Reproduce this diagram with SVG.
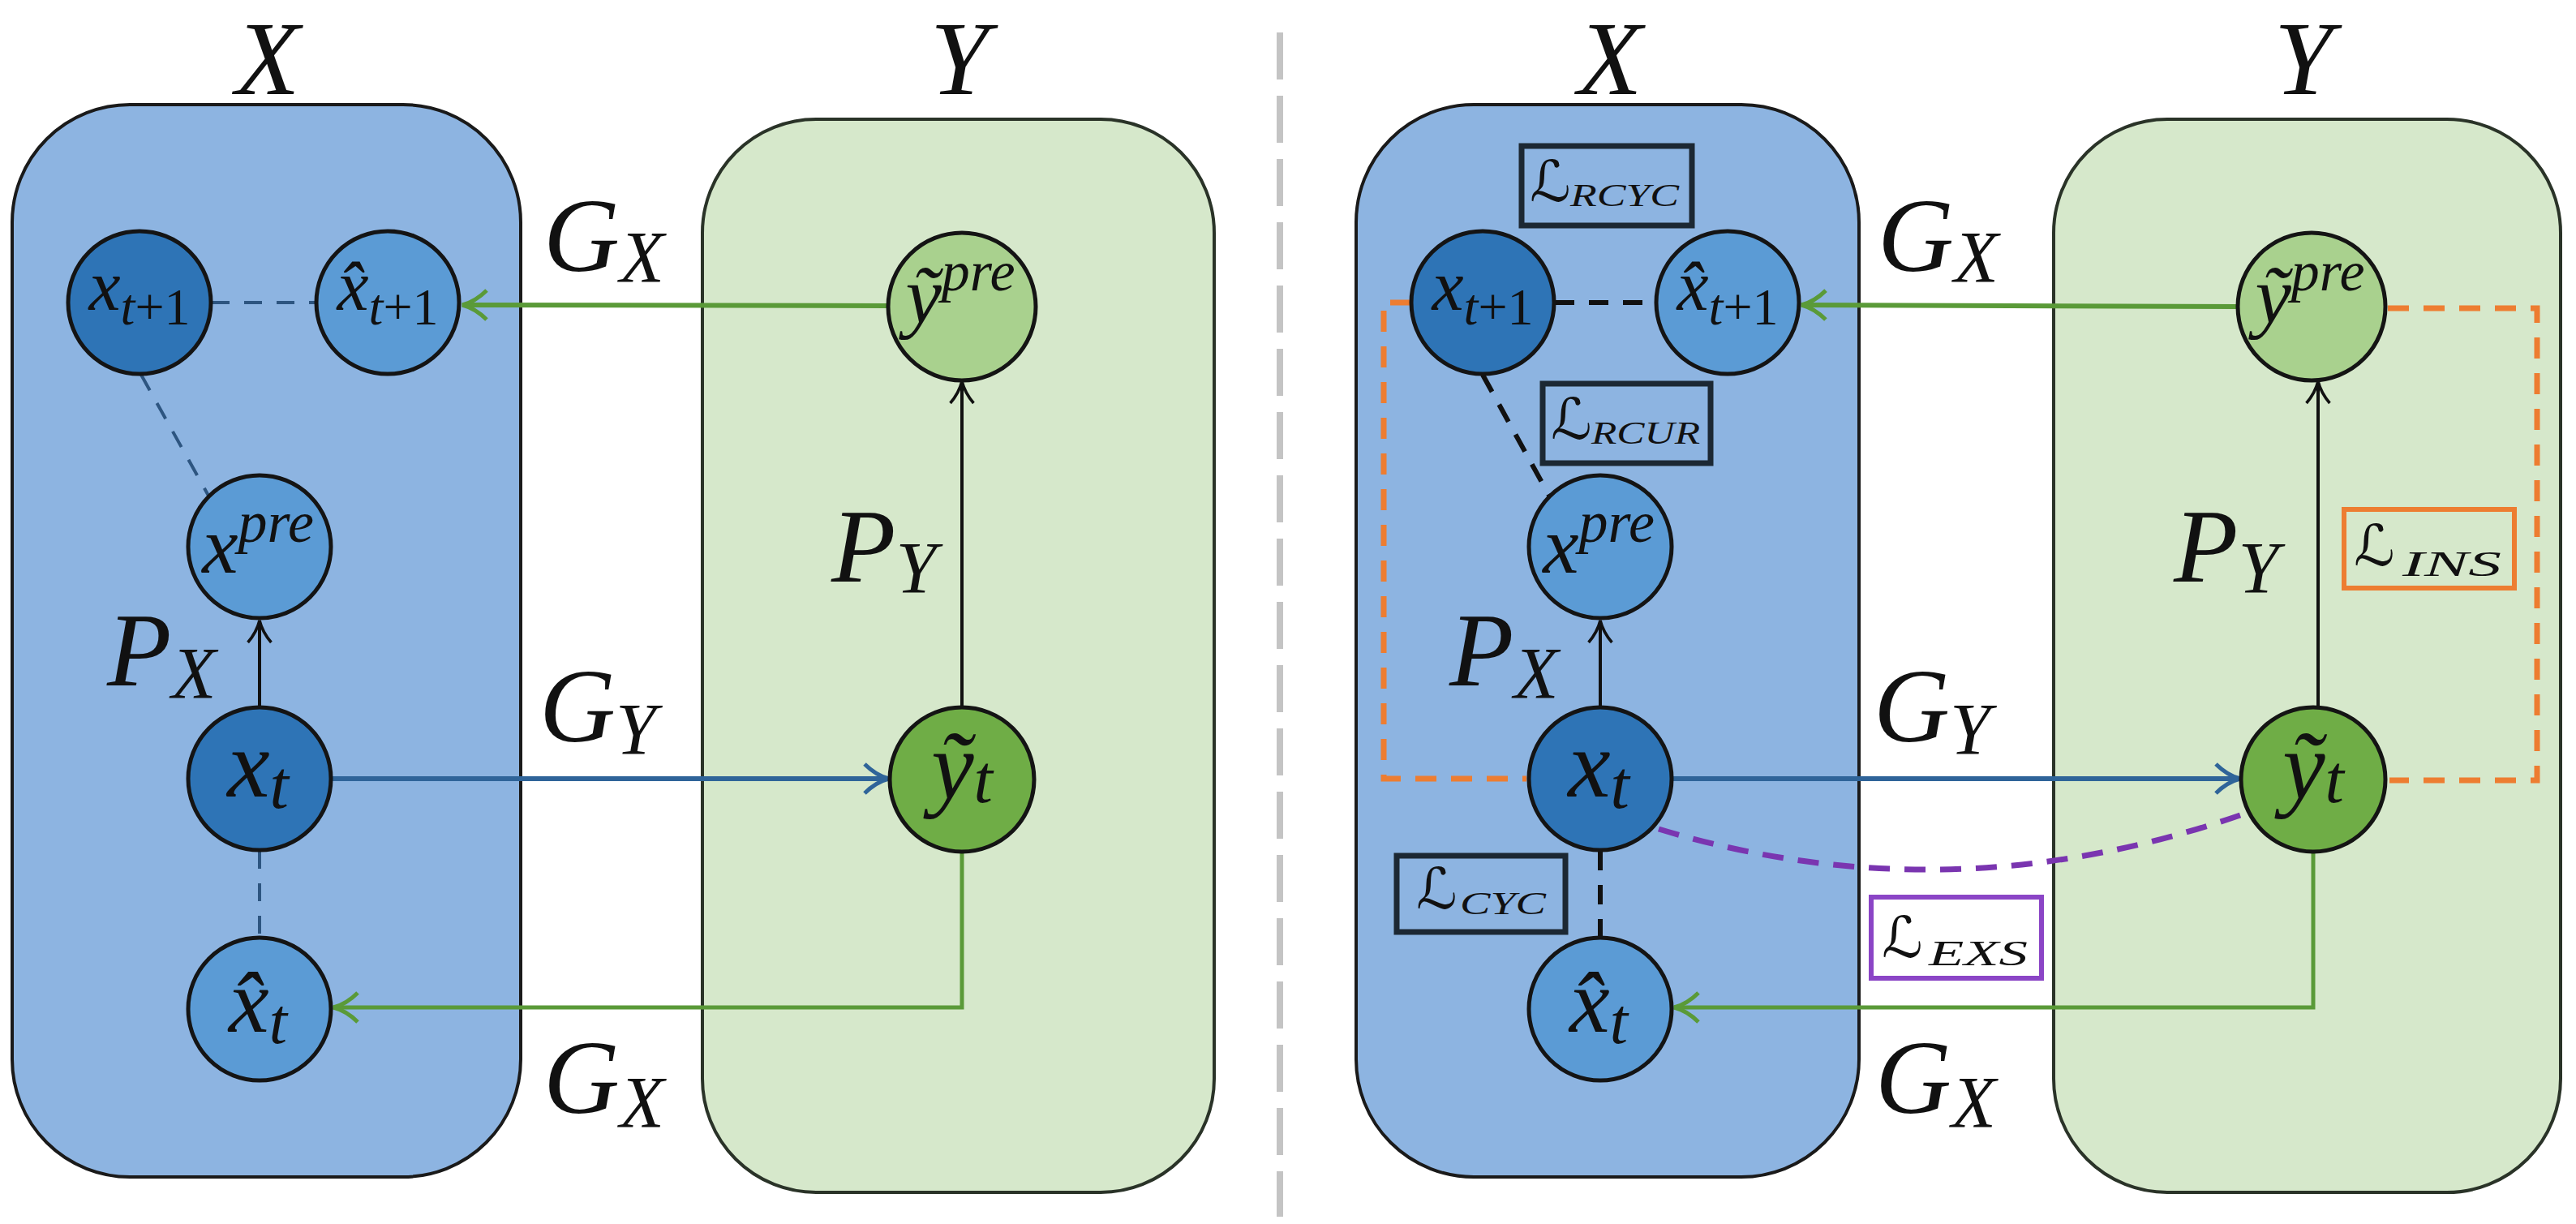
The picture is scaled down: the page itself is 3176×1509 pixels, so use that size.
<svg xmlns="http://www.w3.org/2000/svg" width="3176" height="1509" viewBox="0 0 3176 1509">
<style>
.bg{fill:#ffffff}
.bbox{fill:#8db4e1;stroke:#1a1a1a;stroke-width:4}
.gbox{fill:#d6e8cb;stroke:#2a3328;stroke-width:4}
.n{stroke:#141414;stroke-width:5}
.dk{fill:#2e74b6}
.md{fill:#5b9bd5}
.lg{fill:#a9d18e}
.gr{fill:#6fad46}
.m{font-family:"Liberation Serif","DejaVu Serif",serif;font-style:italic;fill:#111}
.L{font-family:"DejaVu Serif","DejaVu Sans",serif;font-style:italic;fill:#111}
.ga{stroke:#5a9a38;stroke-width:6;fill:none}
.ba{stroke:#2f6499;stroke-width:6;fill:none}
.ka{stroke:#111;stroke-width:4;fill:none}
.dbl{stroke:#2d5580;stroke-width:4;fill:none;stroke-dasharray:22 18}
.dk2{stroke:#111;stroke-width:6;fill:none;stroke-dasharray:24 18}
.or{stroke:#ed7d31;stroke-width:7;fill:none;stroke-dasharray:26 18}
.pu{stroke:#7a35b0;stroke-width:7;fill:none;stroke-dasharray:26 18}
.lb{fill:none;stroke:#1c2833;stroke-width:7}
</style>
<defs>
<marker id="ag" viewBox="0 0 40 40" refX="36" refY="20" markerWidth="40" markerHeight="40" markerUnits="userSpaceOnUse" orient="auto"><path d="M6,2 Q20,16 36,20 Q20,24 6,38" fill="none" stroke="#5a9a38" stroke-width="5"/></marker>
<marker id="ab" viewBox="0 0 40 40" refX="36" refY="20" markerWidth="40" markerHeight="40" markerUnits="userSpaceOnUse" orient="auto"><path d="M6,2 Q20,16 36,20 Q20,24 6,38" fill="none" stroke="#2f6499" stroke-width="5"/></marker>
<marker id="ak" viewBox="0 0 40 40" refX="36" refY="20" markerWidth="36" markerHeight="36" markerUnits="userSpaceOnUse" orient="auto"><path d="M6,4 Q20,16 36,20 Q20,24 6,36" fill="none" stroke="#111" stroke-width="4"/></marker>
</defs>
<rect class="bg" x="0" y="0" width="3176" height="1509"/>

<!-- separator -->
<line x1="1578" y1="40" x2="1578" y2="1500" stroke="#c4c4c4" stroke-width="8" stroke-dasharray="58 20"/>

<!-- ============ LEFT PANEL ============ -->
<g id="left-domain-X">
<rect class="bbox" x="15" y="129" width="627" height="1322" rx="145" ry="145"/>
<text class="m" x="330" y="116" font-size="130" text-anchor="middle">X</text>
</g>
<g id="left-domain-Y">
<rect class="gbox" x="866" y="147" width="631" height="1323" rx="140" ry="140"/>
<text class="m" x="1183" y="116" font-size="130" text-anchor="middle">Y</text>
</g>

<g id="left-connectors">
<line class="ga" x1="1094" y1="377" x2="570" y2="376" marker-end="url(#ag)"/>
<line class="ka" x1="1186" y1="872" x2="1186" y2="470" marker-end="url(#ak)"/>
<line class="ka" x1="320" y1="871" x2="320" y2="765" marker-end="url(#ak)"/>
<line class="ba" x1="409" y1="960" x2="1096" y2="960" marker-end="url(#ab)"/>
<polyline class="ga" points="1186,1050 1186,1242 411,1242" marker-end="url(#ag)" style="stroke-width:5"/>
<line class="dbl" x1="261" y1="373" x2="389" y2="373"/>
<line class="dbl" x1="174" y1="462" x2="257" y2="611"/>
<line class="dbl" x1="320" y1="1049" x2="320" y2="1155"/>
</g>

<g id="left-labels">
<text class="m" x="670" y="334" font-size="130">G<tspan font-size="90" dy="14">X</tspan></text>
<text class="m" x="1025" y="717" font-size="130">P<tspan font-size="90" dy="14">Y</tspan></text>
<text class="m" x="132" y="845" font-size="130">P<tspan font-size="90" dy="16">X</tspan></text>
<text class="m" x="665" y="914" font-size="130">G<tspan font-size="90" dy="16">Y</tspan></text>
<text class="m" x="670" y="1372" font-size="130">G<tspan font-size="90" dy="18">X</tspan></text>
</g>

<g id="left-x-t1">
<circle class="n dk" cx="172" cy="373" r="88"/>
<text class="m" x="172" y="382" font-size="88" text-anchor="middle">x<tspan font-size="64" dy="18">t</tspan><tspan font-size="64" style="font-style:normal">+1</tspan></text>
</g>
<g id="left-xhat-t1">
<circle class="n md" cx="478" cy="373" r="88"/>
<text class="m" x="478" y="382" font-size="88" text-anchor="middle">x̂<tspan font-size="64" dy="18">t</tspan><tspan font-size="64" style="font-style:normal">+1</tspan></text>
</g>
<g id="left-x-pre">
<circle class="n md" cx="320" cy="674" r="88"/>
<text class="m" x="318" y="706" font-size="100" text-anchor="middle">x<tspan font-size="72" dy="-38">pre</tspan></text>
</g>
<g id="left-x-t">
<circle class="n dk" cx="320" cy="960" r="88"/>
<text class="m" x="318" y="982" font-size="118" text-anchor="middle">x<tspan font-size="84" dy="14">t</tspan></text>
</g>
<g id="left-xhat-t">
<circle class="n md" cx="320" cy="1244" r="88"/>
<text class="m" x="318" y="1272" font-size="112" text-anchor="middle">x̂<tspan font-size="80" dy="14">t</tspan></text>
</g>
<g id="left-ytilde-pre">
<circle class="n lg" cx="1186" cy="378" r="91"/>
<text class="m" x="1184" y="398" font-size="100" text-anchor="middle">ỹ<tspan font-size="70" dy="-40">pre</tspan></text>
</g>
<g id="left-ytilde-t">
<circle class="n gr" cx="1186" cy="961" r="89"/>
<text class="m" x="1186" y="985" font-size="118" text-anchor="middle">ỹ<tspan font-size="84" dy="4">t</tspan></text>
</g>

<!-- ============ RIGHT PANEL ============ -->
<g id="right-domain-X">
<rect class="bbox" x="1672" y="129" width="620" height="1322" rx="145" ry="145"/>
<text class="m" x="1985" y="116" font-size="130" text-anchor="middle">X</text>
</g>
<g id="right-domain-Y">
<rect class="gbox" x="2532" y="147" width="625" height="1323" rx="140" ry="140"/>
<text class="m" x="2840" y="116" font-size="130" text-anchor="middle">Y</text>
</g>

<g id="right-connectors">
<path class="or" d="M1740,373 H1706 V960 H1882"/>
<path class="or" d="M2944,380 H3128 V962 H2946"/>
<path class="pu" d="M2045,1022 Q2400,1130 2762,1005"/>
<line class="ga" x1="2758" y1="378" x2="2221" y2="376" marker-end="url(#ag)"/>
<line class="ka" x1="2858" y1="872" x2="2858" y2="470" marker-end="url(#ak)"/>
<line class="ka" x1="1973" y1="871" x2="1973" y2="765" marker-end="url(#ak)"/>
<line class="ba" x1="2062" y1="960" x2="2762" y2="960" marker-end="url(#ab)"/>
<polyline class="ga" points="2852,1050 2852,1242 2064,1242" marker-end="url(#ag)" style="stroke-width:5"/>
<line class="dk2" x1="1917" y1="373" x2="2041" y2="373"/>
<line class="dk2" x1="1828" y1="462" x2="1910" y2="611"/>
<line class="dk2" x1="1973" y1="1049" x2="1973" y2="1155"/>
</g>

<g id="right-labels">
<text class="m" x="2315" y="334" font-size="130">G<tspan font-size="90" dy="14">X</tspan></text>
<text class="m" x="2680" y="717" font-size="130">P<tspan font-size="90" dy="14">Y</tspan></text>
<text class="m" x="1787" y="845" font-size="130">P<tspan font-size="90" dy="16">X</tspan></text>
<text class="m" x="2310" y="914" font-size="130">G<tspan font-size="90" dy="16">Y</tspan></text>
<text class="m" x="2312" y="1372" font-size="130">G<tspan font-size="90" dy="18">X</tspan></text>
</g>

<g id="loss-RCYC">
<rect class="lb" x="1876" y="180" width="210" height="98"/>
<text class="L" x="1886" y="248" font-size="70">ℒ</text>
<text class="m" x="1936" y="254" font-size="40" textLength="134" lengthAdjust="spacingAndGlyphs">RCYC</text>
</g>
<g id="loss-RCUR">
<rect class="lb" x="1902" y="473" width="207" height="98"/>
<text class="L" x="1912" y="541" font-size="70">ℒ</text>
<text class="m" x="1962" y="547" font-size="40" textLength="134" lengthAdjust="spacingAndGlyphs">RCUR</text>
</g>
<g id="loss-CYC">
<rect class="lb" x="1722" y="1055" width="208" height="94"/>
<text class="L" x="1746" y="1120" font-size="70">ℒ</text>
<text class="m" x="1800" y="1127" font-size="40" textLength="106" lengthAdjust="spacingAndGlyphs">CYC</text>
</g>
<g id="loss-EXS">
<rect x="2307" y="1106" width="210" height="100" fill="#ffffff" stroke="#8b45c6" stroke-width="6"/>
<text class="L" x="2320" y="1180" font-size="70">ℒ</text>
<text class="m" x="2378" y="1190" font-size="44" textLength="122" lengthAdjust="spacingAndGlyphs">EXS</text>
</g>
<g id="loss-INS">
<rect x="2890" y="628" width="210" height="97" fill="none" stroke="#ed7d31" stroke-width="6"/>
<text class="L" x="2902" y="697" font-size="70">ℒ</text>
<text class="m" x="2962" y="710" font-size="44" textLength="122" lengthAdjust="spacingAndGlyphs">INS</text>
</g>

<g id="right-x-t1">
<circle class="n dk" cx="1828" cy="373" r="88"/>
<text class="m" x="1828" y="382" font-size="88" text-anchor="middle">x<tspan font-size="64" dy="18">t</tspan><tspan font-size="64" style="font-style:normal">+1</tspan></text>
</g>
<g id="right-xhat-t1">
<circle class="n md" cx="2130" cy="373" r="88"/>
<text class="m" x="2130" y="382" font-size="88" text-anchor="middle">x̂<tspan font-size="64" dy="18">t</tspan><tspan font-size="64" style="font-style:normal">+1</tspan></text>
</g>
<g id="right-x-pre">
<circle class="n md" cx="1973" cy="674" r="88"/>
<text class="m" x="1971" y="706" font-size="100" text-anchor="middle">x<tspan font-size="72" dy="-38">pre</tspan></text>
</g>
<g id="right-x-t">
<circle class="n dk" cx="1973" cy="960" r="88"/>
<text class="m" x="1971" y="982" font-size="118" text-anchor="middle">x<tspan font-size="84" dy="14">t</tspan></text>
</g>
<g id="right-xhat-t">
<circle class="n md" cx="1973" cy="1244" r="88"/>
<text class="m" x="1971" y="1272" font-size="112" text-anchor="middle">x̂<tspan font-size="80" dy="14">t</tspan></text>
</g>
<g id="right-ytilde-pre">
<circle class="n lg" cx="2850" cy="378" r="91"/>
<text class="m" x="2848" y="398" font-size="100" text-anchor="middle">ỹ<tspan font-size="70" dy="-40">pre</tspan></text>
</g>
<g id="right-ytilde-t">
<circle class="n gr" cx="2852" cy="961" r="89"/>
<text class="m" x="2852" y="985" font-size="118" text-anchor="middle">ỹ<tspan font-size="84" dy="4">t</tspan></text>
</g>
</svg>
